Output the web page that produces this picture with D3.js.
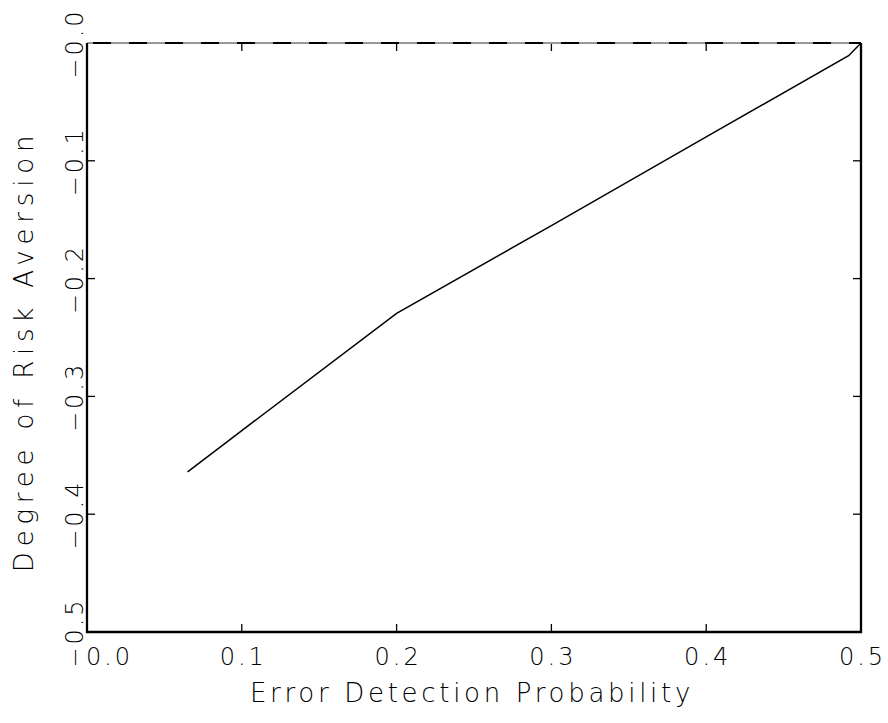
<!DOCTYPE html>
<html lang="en">
  <head>
    <meta charset="utf-8">
    <title>Degree of Risk Aversion</title>
    <script src="https://cdn.jsdelivr.net/npm/d3@7/dist/d3.min.js"></script>
    <style>
      body { margin: 0; background: #fff; }
      text { font-family: "DejaVu Sans", sans-serif; font-weight: 200; fill: #000; }
    </style>
  </head>
  <body>
    <script>
    // values
    var probability = [0.065, 0.1, 0.2, 0.3, 0.4, 0.492, 0.5];
    var aversion    = [-0.364, -0.329, -0.2295, -0.155, -0.0797, -0.0108, 0.0];
    var xTicks = [0.0, 0.1, 0.2, 0.3, 0.4, 0.5];
    var yTicks = [0.0, -0.1, -0.2, -0.3, -0.4, -0.5];

    var w = 888, h = 723;
    // plot box edges (note: "top" is reserved on window, so prefix them)
    var boxL = 87, boxR = 861, boxT = 43, boxB = 632;

    var svg = d3.select("body").append("svg")
      .attr("width", w)
      .attr("height", h);

    var xScale = d3.scaleLinear().domain([0, 0.5]).range([boxL, boxR]);
    var yScale = d3.scaleLinear().domain([-0.5, 0]).range([boxB, boxT]);

    var yFmt = function(d) { return "\u2212" + Math.abs(d).toFixed(1); };
    var xFmt = function(d) { return d.toFixed(1); };

    var inner = function(ticks) { return ticks.slice(1, ticks.length - 1); };

    // bottom axis labels
    var xAxis = svg.append("g")
      .attr("transform", "translate(0," + boxB + ")")
      .call(d3.axisBottom(xScale).tickValues(xTicks).tickFormat(xFmt).tickSize(0).tickPadding(33));
    xAxis.select(".domain").remove();
    xAxis.selectAll("text").attr("font-size", 24).attr("letter-spacing", 3).attr("dy", null)
      .attr("font-family", null)
      // first label is nudged right so it clears the rotated -0.5
      .attr("x", function(d, i) { return i === 0 ? 22 : 1; });

    // left axis labels (rotated)
    var yAxis = svg.append("g")
      .attr("transform", "translate(" + boxL + ",0)")
      .call(d3.axisLeft(yScale).tickValues(yTicks).tickFormat(yFmt).tickSize(0));
    yAxis.select(".domain").remove();
    yAxis.selectAll("text")
      .attr("x", null).attr("dy", null)
      .attr("font-size", 24).attr("letter-spacing", 3)
      .attr("font-family", null)
      .attr("text-anchor", "middle")
      .attr("transform", "translate(-4,0) rotate(-90)");

    // inward ticks on all four sides
    var tickLen = 8;
    var tk = svg.append("g").attr("stroke", "#000").attr("stroke-width", 1.3);
    tk.selectAll(".tb").data(inner(xTicks)).enter().append("line")
      .attr("x1", xScale).attr("x2", xScale)
      .attr("y1", boxB).attr("y2", boxB - tickLen);
    tk.selectAll(".tt").data(inner(xTicks)).enter().append("line")
      .attr("x1", xScale).attr("x2", xScale)
      .attr("y1", boxT).attr("y2", boxT + tickLen);
    tk.selectAll(".tl").data(inner(yTicks)).enter().append("line")
      .attr("y1", yScale).attr("y2", yScale)
      .attr("x1", boxL).attr("x2", boxL + tickLen);
    tk.selectAll(".tr").data(inner(yTicks)).enter().append("line")
      .attr("y1", yScale).attr("y2", yScale)
      .attr("x1", boxR).attr("x2", boxR - tickLen);

    // frame: grey top edge, black others
    svg.append("line")
      .attr("x1", boxL).attr("x2", boxR).attr("y1", boxT).attr("y2", boxT)
      .attr("stroke", "#999").attr("stroke-width", 2);
    svg.append("path")
      .attr("d", "M" + boxL + "," + boxT + "V" + boxB + "H" + boxR + "V" + boxT)
      .attr("fill", "none").attr("stroke", "#000").attr("stroke-width", 2.3);

    // dashed zero line
    svg.append("line")
      .attr("x1", xScale(0)).attr("x2", xScale(0.5))
      .attr("y1", yScale(0)).attr("y2", yScale(0))
      .attr("stroke", "#000").attr("stroke-width", 2)
      .attr("stroke-dasharray", "18,18")
      .attr("stroke-dashoffset", -6);

    // data line
    var line = d3.line()
      .x(function(d, i) { return xScale(probability[i]); })
      .y(function(d) { return yScale(d); });
    svg.append("path")
      .datum(aversion)
      .attr("d", line)
      .attr("fill", "none")
      .attr("stroke", "#000")
      .attr("stroke-width", 1.5);

    // axis titles
    svg.append("text")
      .attr("x", 472)
      .attr("y", 702)
      .attr("text-anchor", "middle")
      .attr("font-size", 26)
      .attr("letter-spacing", 3.7)
      .text("Error Detection Probability");

    svg.append("text")
      .attr("transform", "translate(33,351) rotate(-90)")
      .attr("text-anchor", "middle")
      .attr("font-size", 26)
      .attr("letter-spacing", 5.8)
      .text("Degree of Risk Aversion");
    </script>
  </body>
</html>
